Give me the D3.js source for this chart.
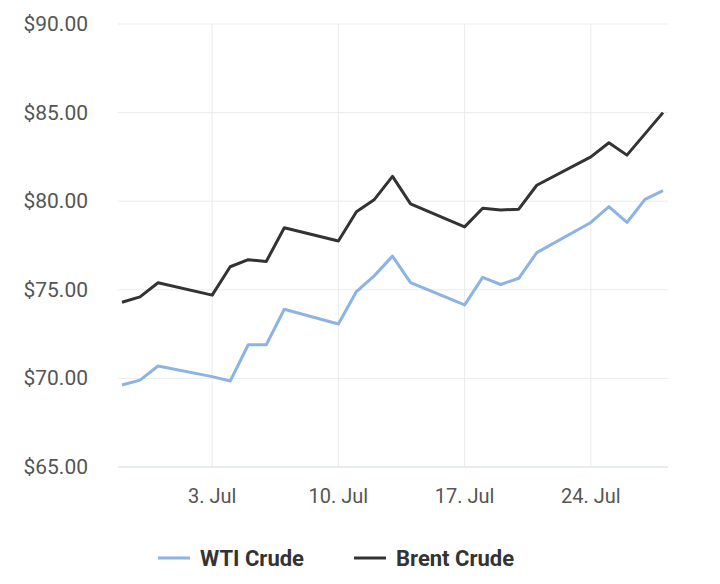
<!DOCTYPE html>
<html><head><meta charset="utf-8">
<script src="https://cdn.jsdelivr.net/npm/d3@7"></script>
<style>body{margin:0;background:#fff}text{font-family:Roboto,sans-serif}</style>
</head><body><svg id="c" width="720" height="584"></svg>
<script>
const dates = ["2023-06-28","2023-06-29","2023-06-30","2023-07-03","2023-07-04","2023-07-05","2023-07-06","2023-07-07","2023-07-10","2023-07-11","2023-07-12","2023-07-13","2023-07-14","2023-07-17","2023-07-18","2023-07-19","2023-07-20","2023-07-21","2023-07-24","2023-07-25","2023-07-26","2023-07-27","2023-07-28"];
const wti = [69.63,69.9,70.7,70.1,69.85,71.9,71.9,73.9,73.07,74.9,75.8,76.9,75.4,74.15,75.7,75.3,75.65,77.1,78.8,79.7,78.8,80.1,80.6];
const brent = [74.3,74.6,75.4,74.7,76.3,76.7,76.6,78.5,77.75,79.4,80.1,81.4,79.85,78.55,79.6,79.5,79.55,80.9,82.5,83.3,82.6,83.8,85.0];
const yTicks = [65,70,75,80,85,90];
const xTickDates = ["2023-07-03","2023-07-10","2023-07-17","2023-07-24"];
const seriesNames = ["WTI Crude","Brent Crude"];
const colors = ["#8db3e2","#333333"];

const svg = d3.select("#c");
const p = d3.timeParse("%Y-%m-%d");
const D = dates.map(p);
const x = d3.scaleTime().domain([D[0], D[D.length-1]]).range([122,663]);
const y = d3.scaleLinear().domain([65,90]).range([467,24]);

svg.append("g").selectAll("line").data(yTicks).join("line")
  .attr("x1",118).attr("x2",668).attr("y1",d=>y(d)).attr("y2",d=>y(d))
  .attr("stroke",d=>d===65?"#ccd6eb":"#ebebeb").attr("stroke-width",1);
svg.append("g").selectAll("line").data(xTickDates.map(p)).join("line")
  .attr("x1",d=>x(d)).attr("x2",d=>x(d)).attr("y1",24).attr("y2",467)
  .attr("stroke","#ebebeb");
svg.append("g").selectAll("text").data(yTicks).join("text")
  .attr("x",88).attr("y",d=>y(d)+7).attr("text-anchor","end")
  .attr("font-size",21).attr("fill","#555").text(d=>"$"+d.toFixed(2));
svg.append("g").selectAll("text").data(xTickDates.map(p)).join("text")
  .attr("x",d=>x(d)).attr("y",503).attr("text-anchor","middle")
  .attr("font-size",20).attr("fill","#555").text(d=>d3.timeFormat("%-d. %b")(d));

const line = d3.line().x((d,i)=>x(D[i])).y(d=>y(d));
[wti,brent].forEach((s,k)=>{
  svg.append("path").attr("d",line(s)).attr("fill","none")
    .attr("stroke",colors[k]).attr("stroke-width",3).attr("stroke-linejoin","round");
});
const lx=[158,354];
seriesNames.forEach((n,k)=>{
  svg.append("line").attr("x1",lx[k]).attr("x2",lx[k]+32).attr("y1",558).attr("y2",558)
    .attr("stroke",colors[k]).attr("stroke-width",3);
  svg.append("text").attr("x",lx[k]+42).attr("y",566).attr("font-size",22)
    .attr("font-weight","bold").attr("fill","#333").text(n);
});
</script></body></html>
